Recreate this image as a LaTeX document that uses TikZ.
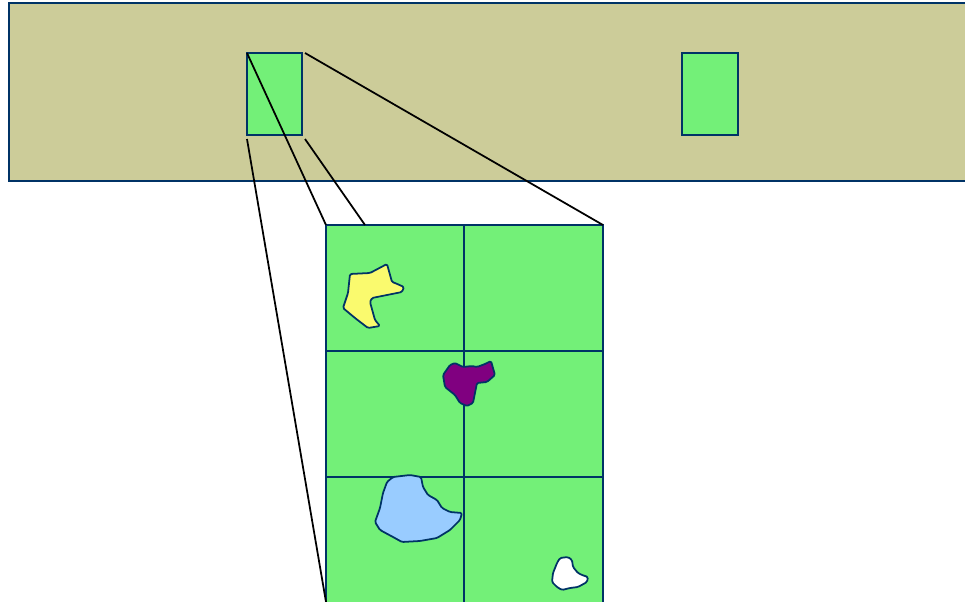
\documentclass[tikz,border=0pt]{standalone}
\usepackage{tikz}
\usetikzlibrary{calc}
\definecolor{KH}{RGB}{204,204,153}
\definecolor{NB}{RGB}{0,51,102}
\definecolor{LGn}{RGB}{115,240,120}
\definecolor{LY}{RGB}{250,250,110}
\definecolor{PU}{RGB}{128,0,128}
\definecolor{LB}{RGB}{153,204,255}
\tikzset{
  box/.style={draw=NB, line width=1.1pt},
  zoomline/.style={draw=black, line width=1pt},
  blob/.style={draw=NB, line width=1pt, line join=round, rounded corners=0.8pt}
}
\begin{document}
\begin{tikzpicture}[x=0.02cm, y=-0.02cm]
\useasboundingbox (0,0) rectangle (965,602);
% Strip with two windows
\fill[KH, box] (9,3) rectangle (975,181);
\coordinate (winNW) at (247,53);
\coordinate (winSE) at (302,135);
\fill[LGn, box] (winNW) rectangle (winSE);
\fill[LGn, box] (682,53) rectangle (738,135);

% Enlarged window as a grid
\coordinate (gridNW) at (326,225);
\coordinate (gridNE) at (603,225);
\coordinate (gridM)  at (365,225);
\fill[LGn, box] (gridNW) rectangle (603,612);
\draw[box] (464,225) -- (464,612);
\draw[box] (326,351) -- (603,351);
\draw[box] (326,477) -- (603,477);

% Zoom lines
\coordinate (winNE) at (305,53);
\coordinate (winSEb) at (305,139);
\coordinate (winSW) at (247,139);
\draw[zoomline] (winNW) -- (gridNW);
\draw[zoomline] (winNE) -- (gridNE);
\draw[zoomline] (winSEb) -- (gridM);
\draw[zoomline] (winSW) -- ($(winSW)!1.03!(326,602)$);

% Blobs
\fill[LY, blob]
  (350,274) -- (370,273) -- (387,264) -- (392,282) -- (395,283) -- (404,287)
  -- (402,292) -- (372,298) -- (370,302) -- (375,320) -- (380,326) -- (368,328)
  -- (355,318) -- (343,308) -- (348,293) -- cycle;
\fill[PU, blob]
  (443,375) -- (450,365) -- (455,363) -- (463,367) -- (472,366) -- (477,367)
  -- (485,364) -- (491,361) -- (495,375) -- (487,382) -- (477,383) -- (473,403)
  -- (467,406) -- (460,403) -- (455,395) -- (445,387) -- cycle;
\fill[LB, blob]
  (387,482) -- (393,477) -- (410,475) -- (421,477) -- (423,487) -- (428,495)
  -- (437,500) -- (442,508) -- (450,512) -- (462,513) -- (460,520) -- (450,530)
  -- (437,538) -- (420,541) -- (402,542) -- (393,537) -- (380,530) -- (375,522)
  -- (380,508) -- (383,493) -- cycle;
\fill[white, blob]
  (557,563) -- (560,558) -- (568,557) -- (572,560) -- (573,567) -- (578,573)
  -- (582,575) -- (588,577) -- (587,582) -- (578,587) -- (570,588) -- (562,590)
  -- (557,587) -- (552,582) -- (553,573) -- cycle;
\end{tikzpicture}
\end{document}
